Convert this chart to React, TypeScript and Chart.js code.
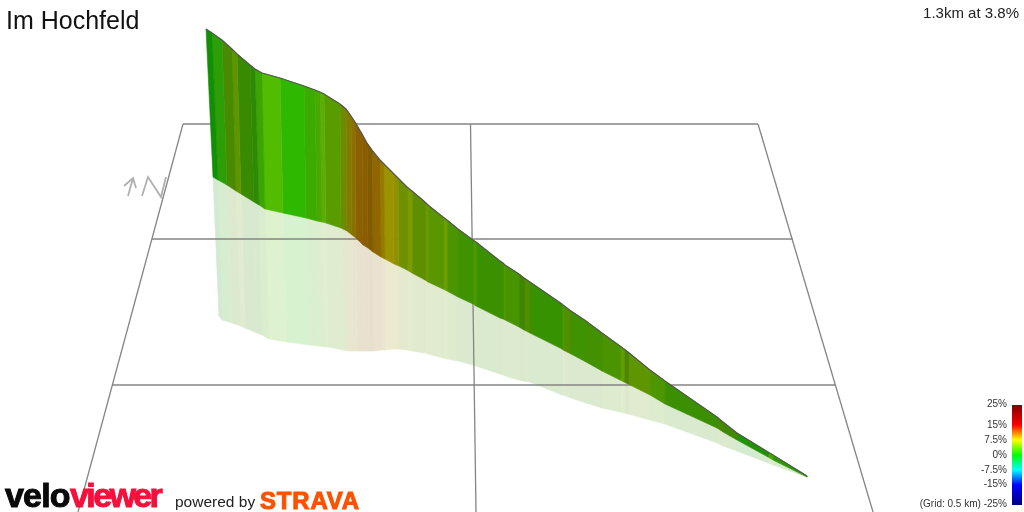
import React, { useEffect, useRef } from "react";
import { Chart, registerables } from "chart.js";

Chart.register(...registerables);

const title = "Im Hochfeld";
const summary = "1.3km at 3.8%";

const topX = [206,212,222,232,237,250,255,262,280,304,315,320,324,340,346,351,355,362,367,372,380,384,393,398,407,412,425,428,443,447,458,473,476,500,503,505,519,524,530,562,563,571,586,602,620,624,628,650,665,717,723,737,768,773,807];
const topY = [29,33,40,49,54,65,69,73,78,86,90,92,94,104,109,116,122,134,143,150,160,164,173,178,187,191,202,205,217,220,229,240,242,261,263,265,274,278,282,304,305,311,321,333,346,349,352,370,381,417,422,433,452,455,476];
const midX = [213,218,227,236,241,254,259,265,283,306,317,322,326,341,347,352,356,363,368,373,381,385,394,399,407,412,425,428,443,447,458,473,476,500,503,505,519,524,530,562,563,571,586,602,620,624,628,650,665,717,723,737,768,773,807];
const midY = [177,180,185,191,194,202,205,209,213,218,221,222,223,228,231,235,238,245,248,252,257,259,264,266,270,273,280,282,289,291,297,304,306,318,319,320,327,330,333,349,350,354,362,371,380,382,384,395,404,428,432,440,457,460,477];
const shadowX = [219,222,232,241,245,257,262,269,287,309,320,325,328,343,349,353,357,364,369,374,381,385,394,399,407,412,425,428,443,447,458,473,476,500,503,505,519,524,530,562,563,571,586,602,620,624,628,650,665,717,723,737,768,773,807];
const shadowY = [316,320,323,326,328,333,335,339,342,345,346,347,347,350,351,351,351,351,351,351,350,350,349,349,350,351,353,354,358,359,361,365,366,374,375,376,380,381,382,395,395,398,403,408,412,413,414,420,424,443,446,451,463,465,477];
const stripColours = ["#138f05","#2d9e06","#4a8a00","#5f9600","#388a00","#2c8a04","#3ba602","#52bd00","#2fb800","#3cab00","#4aa800","#5caf00","#589c00","#6e8a00","#857a00","#8a7000","#8c6000","#8a5d00","#7f5c00","#8f6600","#947c00","#9c9300","#8f9200","#6f9000","#7a9c00","#5f8e00","#6c9a00","#5a9600","#6aa000","#4b9500","#3f9200","#4d9c00","#3b9000","#3e9200","#509a00","#459400","#3f8600","#4e8f00","#379200","#5a9e00","#4f8f00","#3f9200","#439000","#4a9400","#5f9e00","#4f8400","#5f9500","#4c9600","#3a9000","#4a8a00","#3f8a00","#1f9400","#4aa500","#2a9a00"];

const gridLines = [
  [[183,124],[758,124]],
  [[152,239],[793,239]],
  [[112,385],[836,385]],
  [[183,124],[78,512]],
  [[758,124],[873,512]],
  [[470.5,124],[476,512]],
];
const northMarks = [
  [[128,196],[133,178]],
  [[124,186],[133,178],[136,188]],
  [[142,196],[148,177],[161,197],[166,177]],
];

const scaleLabels = [
  ["25%", 404], ["15%", 425], ["7.5%", 440], ["0%", 455], ["-7.5%", 470], ["-15%", 484], ["(Grid: 0.5 km) -25%", 504],
] as const;

function paler(hex: string, a: number) {
  const n = parseInt(hex.slice(1), 16);
  const m = (c: number) => Math.round(255 - (255 - c) * a);
  return `rgb(${m((n >> 16) & 255)},${m((n >> 8) & 255)},${m(n & 255)})`;
}

const pts = (l: number[][]) => l.map(([x, y]) => ({ x, y }));
const base = { showLine: true, pointRadius: 0, pointHoverRadius: 0, tension: 0 };

export default function App() {
  const ref = useRef<HTMLCanvasElement>(null);
  useEffect(() => {
    const datasets: any[] = [];
    stripColours.forEach((c, i) => {
      datasets.push({
        ...base, order: 3,
        data: pts([[midX[i],midY[i]],[midX[i+1],midY[i+1]],[shadowX[i+1],shadowY[i+1]],[shadowX[i],shadowY[i]],[midX[i],midY[i]]]),
        fill: "shape", backgroundColor: paler(c, 0.19), borderColor: paler(c, 0.19), borderWidth: 0.6,
      });
    });
    gridLines.forEach((l) => datasets.push({ ...base, order: 2, data: pts(l), borderColor: "#858585", borderWidth: 1.3 }));
    northMarks.forEach((l) => datasets.push({ ...base, order: 2, data: pts(l), borderColor: "#b0b0b0", borderWidth: 1.8 }));
    stripColours.forEach((c, i) => {
      datasets.push({
        ...base, order: 1,
        data: pts([[topX[i],topY[i]],[topX[i+1],topY[i+1]],[midX[i+1],midY[i+1]],[midX[i],midY[i]],[topX[i],topY[i]]]),
        fill: "shape", backgroundColor: c, borderColor: c, borderWidth: 0.6,
      });
    });
    datasets.push({ ...base, order: 0, data: topX.map((x, i) => ({ x, y: topY[i] })), borderColor: "#555555", borderWidth: 1.2 });

    const chart = new Chart(ref.current!, {
      type: "scatter",
      data: { datasets },
      options: {
        animation: false,
        responsive: false,
        events: [],
        layout: { padding: 0 },
        plugins: { legend: { display: false }, tooltip: { enabled: false }, title: { display: false } },
        scales: {
          x: { type: "linear", min: 0, max: 1024, display: false },
          y: { type: "linear", min: 0, max: 512, reverse: true, display: false },
        },
      },
    });
    return () => chart.destroy();
  }, []);

  const sans = '"Liberation Sans", Arial, sans-serif';
  const abs = (o: React.CSSProperties): React.CSSProperties => ({ position: "absolute", whiteSpace: "nowrap", fontFamily: sans, lineHeight: 1, ...o });
  return (
    <div style={{ position: "fixed", left: 0, top: 0, width: 1024, height: 512, overflow: "hidden", background: "#fff" }}>
      <canvas ref={ref} width={1024} height={512} style={{ position: "absolute", left: 0, top: 0, width: 1024, height: 512 }} />
      <div style={abs({ left: 6, top: 8, fontSize: 25, color: "#111" })}>{title}</div>
      <div style={abs({ right: 5, top: 5, fontSize: 15, color: "#222" })}>{summary}</div>
      {scaleLabels.map(([t, y]) => (
        <div key={t} style={abs({ right: 17, top: y - 5, fontSize: 10, color: "#333" })}>{t}</div>
      ))}
      <div style={{ position: "absolute", left: 1012, top: 405, width: 10, height: 100, background: "linear-gradient(#800000 0%, #ff0000 20%, #ffff00 35%, #00ff00 50%, #00ffff 65%, #0000ff 80%, #000080 100%)" }} />
      <div style={abs({ left: 5, top: 478, fontSize: 34, fontWeight: 700, color: "#0a0a0a", letterSpacing: -0.8, WebkitTextStroke: "1px #0a0a0a" })}>velo</div>
      <div style={abs({ left: 70, top: 478, fontSize: 34, fontWeight: 700, color: "#f5103c", letterSpacing: -2.6, WebkitTextStroke: "1px #f5103c" })}>viewer</div>
      <div style={abs({ left: 175, top: 494, fontSize: 15.5, color: "#222" })}>powered by</div>
      <div style={abs({ left: 260, top: 489, fontSize: 24, fontWeight: 700, color: "#fc5200", letterSpacing: 0.8, WebkitTextStroke: "1px #fc5200" })}>STRAVA</div>
    </div>
  );
}
